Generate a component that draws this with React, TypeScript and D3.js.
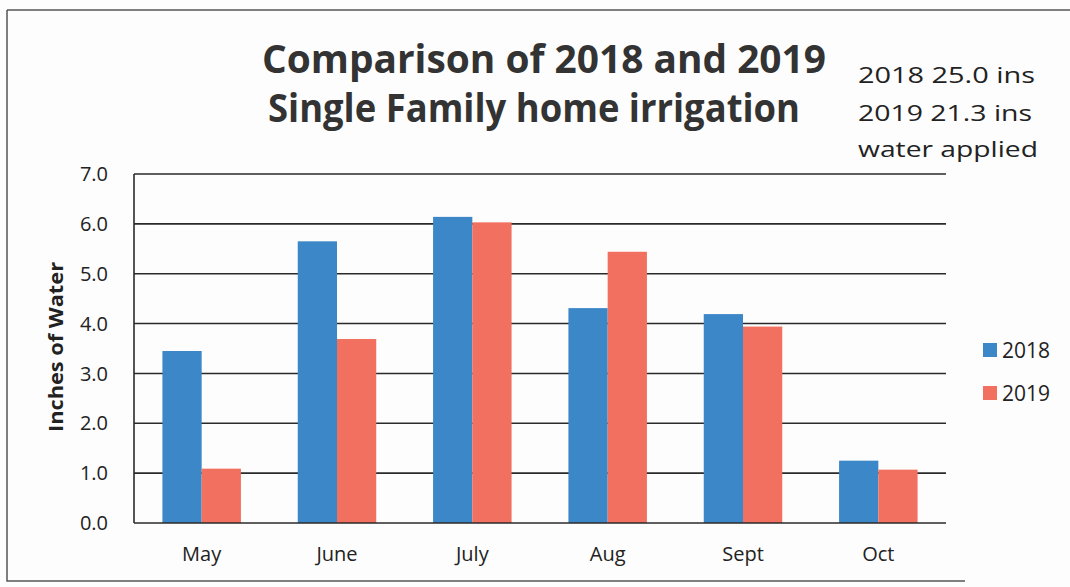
import React, { Component } from 'react';
import * as d3 from 'd3';

const months = ['May', 'June', 'July', 'Aug', 'Sept', 'Oct'];
const seriesNames = ['2018', '2019'];
const values2018 = [3.45, 5.65, 6.14, 4.31, 4.19, 1.25];
const values2019 = [1.09, 3.69, 6.03, 5.44, 3.94, 1.07];
const yTicks = [0, 1, 2, 3, 4, 5, 6, 7];
const titleLines = ['Comparison of 2018 and 2019', 'Single Family home irrigation'];
const noteLines = ['2018 25.0 ins', '2019 21.3 ins', 'water applied'];

const colors: { [k: string]: string } = { '2018': '#3b87c7', '2019': '#f2705f' };
const font = "'Open Sans', 'Noto Sans', sans-serif";

class App extends Component {
  ref = React.createRef<SVGSVGElement>();

  componentDidMount() {
    this.draw();
  }

  draw() {
    const width = 1070;
    const height = 587;
    const plot = { left: 134, right: 946, top: 174, bottom: 523 };

    const svg = d3.select(this.ref.current);
    svg.selectAll('*').remove();

    svg.append('rect').attr('width', width).attr('height', height).attr('fill', '#fdfdfd');

    // scanned page frame
    svg.append('path')
      .attr('d', `M7,10 L1070,10 M7,10 L7,581 L965,581`)
      .attr('fill', 'none').attr('stroke', '#555').attr('stroke-width', 1.5);

    const x = d3.scaleBand().domain(months).range([plot.left, plot.right]).paddingInner(0.42).paddingOuter(0.21);
    const xs = d3.scaleBand().domain(seriesNames).range([0, x.bandwidth()]);
    const y = d3.scaleLinear().domain([0, 7]).range([plot.bottom, plot.top]);

    // gridlines
    svg.append('g').selectAll('line').data(yTicks.slice(1)).join('line')
      .attr('x1', plot.left).attr('x2', plot.right)
      .attr('y1', d => y(d)).attr('y2', d => y(d))
      .attr('stroke', '#2a2a2a').attr('stroke-width', 1.6);

    // bars
    const data = months.map((m, i) => ({ month: m, vals: [values2018[i], values2019[i]] }));
    const groups = svg.append('g').selectAll('g').data(data).join('g')
      .attr('transform', d => `translate(${x(d.month)},0)`);
    groups.selectAll('rect')
      .data(d => seriesNames.map((s, j) => ({ s, v: d.vals[j] })))
      .join('rect')
      .attr('x', d => xs(d.s) as number)
      .attr('width', xs.bandwidth())
      .attr('y', d => y(d.v))
      .attr('height', d => y(0) - y(d.v))
      .attr('fill', d => colors[d.s]);

    // axes lines
    svg.append('line').attr('x1', plot.left).attr('x2', plot.left).attr('y1', plot.top).attr('y2', plot.bottom)
      .attr('stroke', '#2a2a2a').attr('stroke-width', 1.6);
    svg.append('line').attr('x1', plot.left).attr('x2', plot.right).attr('y1', plot.bottom).attr('y2', plot.bottom)
      .attr('stroke', '#2a2a2a').attr('stroke-width', 1.6);

    // y tick labels
    svg.append('g').selectAll('text').data(yTicks).join('text')
      .attr('x', 108).attr('y', d => y(d)).attr('dy', '0.36em')
      .attr('text-anchor', 'end').attr('font-family', font).attr('font-size', 20).attr('fill', '#222')
      .text(d => d.toFixed(1));

    // x labels
    svg.append('g').selectAll('text').data(months).join('text')
      .attr('x', d => (x(d) as number) + x.bandwidth() / 2).attr('y', 561)
      .attr('text-anchor', 'middle').attr('font-family', font).attr('font-size', 20).attr('fill', '#222')
      .text(d => d);

    // y axis title
    svg.append('text')
      .attr('transform', 'translate(63,347) rotate(-90)')
      .attr('text-anchor', 'middle').attr('font-family', font).attr('font-size', 20).attr('font-weight', 'bold')
      .attr('fill', '#222').attr('textLength', 170).attr('lengthAdjust', 'spacingAndGlyphs')
      .text('Inches of Water');

    // title
    const titlePos = [{ x: 262, y: 73, w: 564 }, { x: 268, y: 122, w: 532 }];
    svg.append('g').selectAll('text').data(titleLines).join('text')
      .attr('x', (d, i) => titlePos[i].x).attr('y', (d, i) => titlePos[i].y)
      .attr('textLength', (d, i) => titlePos[i].w).attr('lengthAdjust', 'spacingAndGlyphs')
      .attr('font-family', font).attr('font-size', 39).attr('font-weight', 'bold').attr('fill', '#333')
      .text(d => d);

    // side note
    const noteY = [83, 121, 157];
    const noteW = [177, 174, 180];
    svg.append('g').selectAll('text').data(noteLines).join('text')
      .attr('x', 858).attr('y', (d, i) => noteY[i])
      .attr('textLength', (d, i) => noteW[i]).attr('lengthAdjust', 'spacingAndGlyphs')
      .attr('font-family', font).attr('font-size', 22).attr('fill', '#222')
      .text(d => d);

    // legend
    const legend = svg.append('g').selectAll('g').data(seriesNames).join('g')
      .attr('transform', (d, i) => `translate(983,${350 + i * 43})`);
    legend.append('rect').attr('x', 0).attr('y', -7).attr('width', 14).attr('height', 14).attr('fill', d => colors[d]);
    legend.append('text').attr('x', 19).attr('y', 0).attr('dy', '0.36em')
      .attr('font-family', font).attr('font-size', 21).attr('fill', '#222').text(d => d);
  }

  render() {
    return (
      <svg ref={this.ref} width={1070} height={587}
        style={{ position: 'absolute', left: 0, top: 0, display: 'block' }} />
    );
  }
}

export default App;
